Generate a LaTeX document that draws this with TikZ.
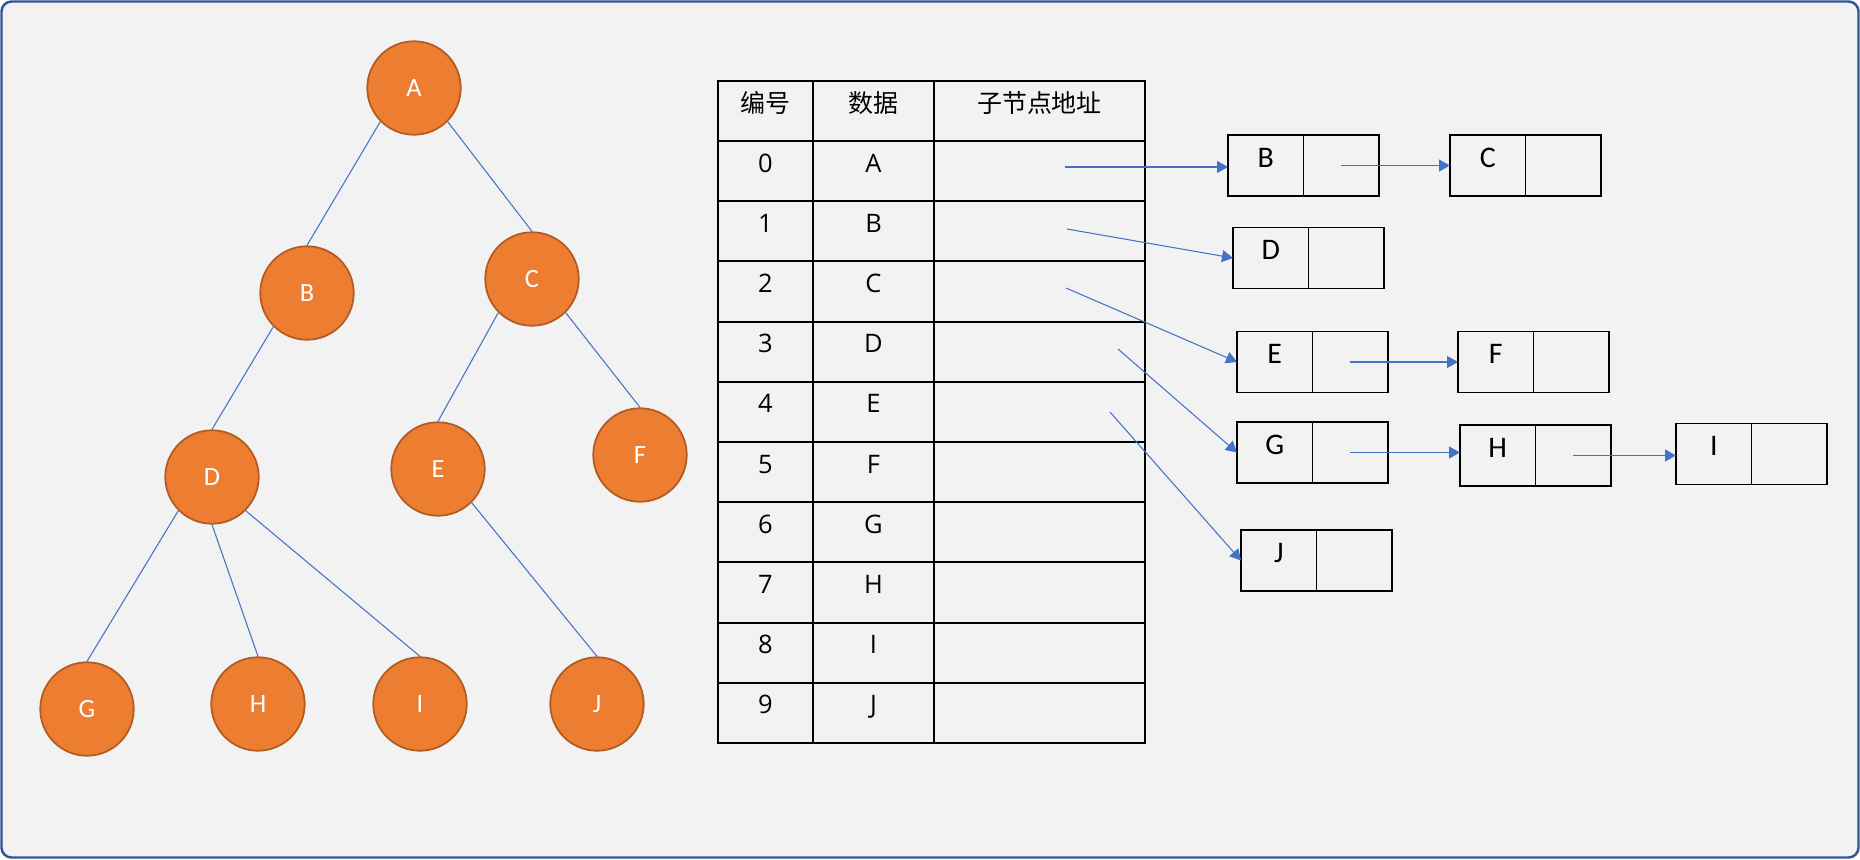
\documentclass[tikz,border=0pt]{standalone}
\usepackage{fontspec}
\usepackage{xcolor}
\usepackage{tikz}
\usetikzlibrary{arrows.meta,positioning}
\newfontfamily\cjkfont{Noto Sans CJK SC}
\newfontfamily\tabfont{Open Sans}
\newfontfamily\calfont{Carlito}
\definecolor{frameblue}{HTML}{2F5597}
\definecolor{bggray}{HTML}{F2F2F2}
\definecolor{nodeorange}{HTML}{ED7D31}
\definecolor{orangeedge}{HTML}{B25B22}
\definecolor{lineblue}{HTML}{4472C4}

\begin{document}
\begin{tikzpicture}[
  x=0.02cm, y=-0.02cm,
  treenode/.style={circle, draw=orangeedge, line width=1pt, fill=nodeorange, minimum size=1.87cm, inner sep=0pt, text=white, font=\calfont\fontsize{15}{18}\selectfont},
  edge/.style={draw=lineblue, line width=0.6pt},
  cell/.style={draw, line width=1.1pt, minimum height=1.204cm, inner sep=0pt, text height=0.36cm, text depth=0.32cm, font=\tabfont\fontsize{14.5}{17}\selectfont},
  head/.style={cell, minimum height=1.2cm, font=\cjkfont\fontsize{14.2}{17}\selectfont},
  datacell/.style={draw, line width=1.1pt, outer sep=0pt, minimum width=1.51cm, minimum height=1.22cm, inner sep=0pt, text height=0.38cm, text depth=0.32cm, font=\calfont\fontsize{17}{20}\selectfont},
  ptrcell/.style={datacell},
  arrow/.style={-{Triangle[length=0.22cm, width=0.24cm]}, lineblue, line width=0.6pt}
]
  \useasboundingbox (0,0) rectangle (1860,859);
  \draw[frameblue, fill=bggray, line width=1.4pt, rounded corners=0.2cm] (1.5,1.5) rectangle (1858.5,857.5);

  \node[treenode] (A) at (414,88) {A};
  \node[treenode] (B) at (307,293) {B};
  \node[treenode] (C) at (532,279) {C};
  \node[treenode] (D) at (212,477) {D};
  \node[treenode] (E) at (438,469) {E};
  \node[treenode] (F) at (640,455) {F};
  \node[treenode] (G) at (87,709) {G};
  \node[treenode] (H) at (258,704) {H};
  \node[treenode] (I) at (420,704) {I};
  \node[treenode] (J) at (597,704) {J};

  \draw[edge] (A.south west) -- (B.north);
  \draw[edge] (A.south east) -- (C.north);
  \draw[edge] (B.south west) -- (D.north);
  \draw[edge] (C.south west) -- (E.north);
  \draw[edge] (C.south east) -- (F.north);
  \draw[edge] (D.south west) -- (G.north);
  \draw[edge] (D.south) -- (H.north);
  \draw[edge] (D.south east) -- (I.north);
  \draw[edge] (E.south east) -- (J.north);

  \node[head, minimum width=1.9cm] (hnum) at (765.5,111) {编号};
  \node[head, minimum width=2.42cm] (hdata) at (873.5,111) {数据};
  \node[head, minimum width=4.22cm] (hchild) at (1039.5,111) {子节点地址};
  \foreach \i/\d in {0/A,1/B,2/C,3/D,4/E,5/F,6/G,7/H,8/I,9/J} {
    \node[cell, minimum width=1.9cm] (num\i) at (765.5,{171.1+60.2*\i}) {\i};
    \node[cell, minimum width=2.42cm] (data\i) at (873.5,{171.1+60.2*\i}) {\d};
    \node[cell, minimum width=4.22cm] (child\i) at (1039.5,{171.1+60.2*\i}) {};
  }

  \coordinate (p0) at (1065,167);
  \coordinate (p1) at (1067,229);
  \coordinate (p2) at (1066,288);
  \coordinate (p3) at (1118,349);
  \coordinate (p4) at (1110,412);

  \node[datacell] (Bd) at (1265.75,165.5) {B};
  \node[ptrcell, right=0pt of Bd] (Bp) {};
  \node[datacell] (Cd) at (1487.75,165.5) {C};
  \node[ptrcell, right=0pt of Cd] (Cp) {};
  \node[datacell] (Dd) at (1270.75,258) {D};
  \node[ptrcell, right=0pt of Dd] (Dp) {};
  \node[datacell] (Ed) at (1274.75,362) {E};
  \node[ptrcell, right=0pt of Ed] (Ep) {};
  \node[datacell] (Fd) at (1495.75,362) {F};
  \node[ptrcell, right=0pt of Fd] (Fp) {};
  \node[datacell] (Gd) at (1274.75,452.5) {G};
  \node[ptrcell, right=0pt of Gd] (Gp) {};
  \node[datacell] (Hd) at (1497.75,455.5) {H};
  \node[ptrcell, right=0pt of Hd] (Hp) {};
  \node[datacell] (Id) at (1713.75,454) {I};
  \node[ptrcell, right=0pt of Id] (Ip) {};
  \node[datacell] (Jd) at (1278.75,560.5) {J};
  \node[ptrcell, right=0pt of Jd] (Jp) {};

  \draw[arrow] (p0) -- (p0 -| Bd.west);
  \draw[arrow] (Bp.center) -- (Bp.center -| Cd.west);
  \draw[arrow] (p1) -- (Dd.west);
  \draw[arrow] (p2) -- (Ed.west);
  \draw[arrow] (Ep.center) -- (Ep.center -| Fd.west);
  \draw[arrow] (p3) -- (Gd.west);
  \draw[arrow] (Gp.center) -- (Gp.center -| Hd.west);
  \draw[arrow] (Hp.center) -- (Hp.center -| Id.west);
  \draw[arrow] (p4) -- (Jd.west);
\end{tikzpicture}
\end{document}
